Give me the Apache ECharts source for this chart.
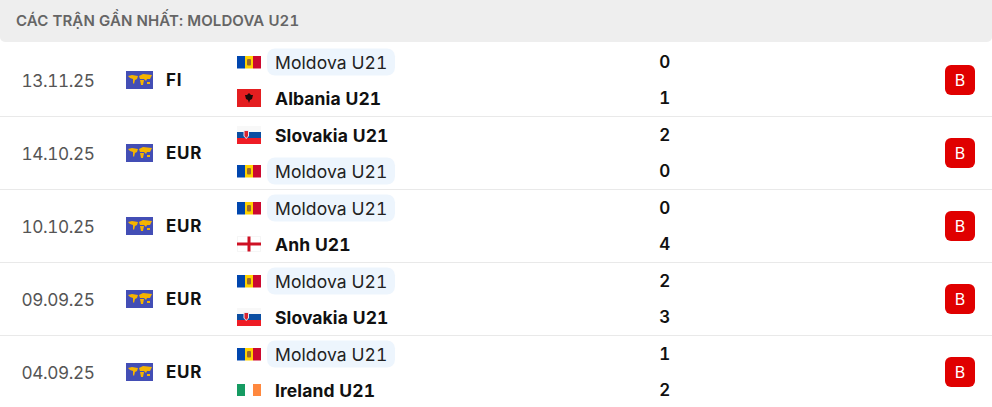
<!DOCTYPE html>
<html>
<head>
<meta charset="utf-8">
<style>
html,body{margin:0;padding:0;background:#fff}
#chart{width:992px;height:407px}
#chart text{font-variant-numeric:tabular-nums !important;font-feature-settings:"tnum" !important}
#chart text[style*="15px"]{letter-spacing:.1px}
#chart text[style*="17.2px"]{letter-spacing:-.4px}
#chart text[style*="17.5px"]{letter-spacing:.1px}
#chart text[style*="17px"]{letter-spacing:.7px}
</style>
<script src="https://cdn.jsdelivr.net/npm/echarts@6/dist/echarts.min.js"></script>
</head>
<body>
<div id="chart"></div>
<script>
var title = 'CÁC TRẬN GẦN NHẤT: MOLDOVA U21';
var dates = ['13.11.25', '14.10.25', '10.10.25', '09.09.25', '04.09.25'];
var competitions = ['FI', 'EUR', 'EUR', 'EUR', 'EUR'];
var homeTeams = ['Moldova U21', 'Slovakia U21', 'Moldova U21', 'Moldova U21', 'Moldova U21'];
var awayTeams = ['Albania U21', 'Moldova U21', 'Anh U21', 'Slovakia U21', 'Ireland U21'];
var homeGoals = [0, 2, 0, 2, 1];
var awayGoals = [1, 0, 4, 3, 2];
var results = ['B', 'B', 'B', 'B', 'B'];
var mainTeam = 'Moldova U21';

var FONT = 'Inter, "Noto Sans", sans-serif';

function rect(x, y, w, h, fill, r) {
    return {type: 'rect', shape: {x: x, y: y, width: w, height: h, r: r || 0}, style: {fill: fill}};
}
function poly(points, fill) {
    return {type: 'polygon', shape: {points: points}, style: {fill: fill}};
}
function label(text, x, y, fill, font, align) {
    return {type: 'text', style: {text: String(text), x: x, y: y, fill: fill, font: font, align: align || 'left', verticalAlign: 'middle'}};
}

// cac co ve quanh tam (0,0), rong 24px
var flags = {
    'Moldova U21': function () {
        return [
            rect(-12, -6, 8, 12.5, '#0046ae'), rect(-4, -6, 8, 12.5, '#ffd200'), rect(4, -6, 8, 12.5, '#cc092f'),
            rect(-2, -3, 4, 6.5, '#9a6a2c', 1)
        ];
    },
    'Albania U21': function () {
        return [
            rect(-12, -9, 24, 18, '#e41e20'),
            poly([[0, -5], [2, -3], [4, -3], [3, 1], [1, 2], [0, 5], [-1, 2], [-3, 1], [-4, -3], [-2, -3]], '#1a0a0a')
        ];
    },
    'Slovakia U21': function () {
        return [
            rect(-12, -9, 24, 6, '#f8f8f8'), rect(-12, -3, 24, 6, '#0b4ea2'), rect(-12, 3, 24, 6, '#ee1c25'),
            poly([[-5.5, -5], [0, -5], [0, 1], [-2.75, 4], [-5.5, 1]], '#e8eaf2'),
            poly([[-4.5, -4], [-1, -4], [-1, 1], [-2.75, 3], [-4.5, 1]], '#d8222e')
        ];
    },
    'Anh U21': function () {
        return [
            rect(-12, -7.5, 24, 15, '#ececec'), rect(-11.5, -7, 23, 14, '#ffffff'),
            rect(-12, -1.5, 24, 3, '#ce1124'), rect(-1.5, -7.5, 3, 15, '#ce1124')
        ];
    },
    'Ireland U21': function () {
        return [rect(-12, -6, 8, 12, '#169b62'), rect(-4, -6, 8, 12, '#ffffff'), rect(4, -6, 8, 12, '#ff883e')];
    }
};

function worldIcon(cy) {
    var g = '#f5b400';
    return {
        type: 'group', x: 126, y: cy - 8.5,
        children: [
            rect(0, 0, 27, 18, '#434eb5'),
            poly([[2, 5], [6, 4], [12, 5], [11, 8], [9, 9], [8, 13], [7, 12], [7, 8], [4, 7]], g),
            poly([[13, 5], [17, 3], [26, 4], [24, 8], [21, 8], [20, 10], [18, 8], [14, 8]], g),
            poly([[14, 9], [18, 9], [17, 14], [15, 14]], g),
            poly([[21, 11], [24, 11], [24, 13], [21, 13]], g)
        ]
    };
}

function teamLine(name, goals, cy) {
    var own = name === mainTeam;
    var els = [];
    if (own) {
        els.push(rect(267, cy - 13.5, 128, 27, '#edf5fd', 8));
    }
    els.push({type: 'group', x: 249, y: cy, children: flags[name]()});
    els.push(label(name, 275, cy, own ? '#222222' : '#111111', (own ? '400' : '700') + ' 17.5px ' + FONT));
    els.push(label(goals, 665, cy, '#111111', '600 17px ' + FONT, 'center'));
    return els;
}

function renderRow(params, api) {
    var i = params.dataIndex;
    var cy = api.coord([0, i])[1];
    var children = [
        label(dates[i], 21.5, cy + 0.5, '#555555', '400 17.2px ' + FONT),
        worldIcon(cy),
        label(competitions[i], 166, cy + 0.5, '#111111', '700 17px ' + FONT)
    ];
    children = children.concat(teamLine(homeTeams[i], homeGoals[i], cy - 17.5));
    children = children.concat(teamLine(awayTeams[i], awayGoals[i], cy + 18.5));
    children.push(rect(945, cy - 14.5, 30, 30, '#e00000', 6));
    children.push(label(results[i], 960, cy + 0.5, '#ffffff', '400 16px ' + FONT, 'center'));
    return {type: 'group', children: children};
}

var chart = echarts.init(document.getElementById('chart'), null, {renderer: 'svg'});
chart.setOption({
    animation: false,
    graphic: [
        {type: 'rect', left: 0, top: 0, shape: {width: 992, height: 42, r: [0, 0, 5, 5]}, style: {fill: '#eeeeee'}},
        {type: 'text', left: 16, top: 13, style: {text: title, fill: '#656565', font: '600 15px ' + FONT}}
    ],
    grid: {left: 0, right: 0, top: 43, height: 365, outerBoundsMode: 'none'},
    xAxis: {type: 'value', min: 0, max: 992, show: false},
    yAxis: {
        type: 'category',
        inverse: true,
        data: dates,
        axisLine: {show: false},
        axisTick: {show: false},
        axisLabel: {show: false},
        splitLine: {
            show: true,
            interval: function (i) { return i > 0; },
            lineStyle: {color: '#e9e9e9', width: 1}
        }
    },
    series: [{
        type: 'custom',
        renderItem: renderRow,
        clip: false,
        silent: true,
        data: dates.map(function (d, i) { return [0, i]; })
    }]
});
</script>
</body>
</html>
